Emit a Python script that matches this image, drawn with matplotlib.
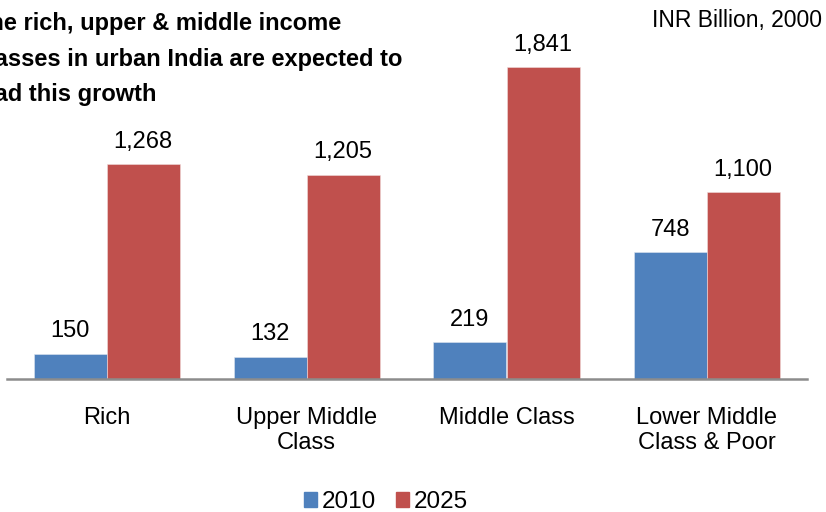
"""
Grouped bar chart of urban consumption by income class, 2010 vs 2025.
"""
import matplotlib
import matplotlib.pyplot as plt
import numpy as np
from matplotlib.patches import Patch

matplotlib.use('agg')

categories = ['Rich', 'Upper Middle\nClass', 'Middle Class', 'Lower Middle\nClass & Poor']
values_2010 = [150, 132, 219, 748]
values_2025 = [1268, 1205, 1841, 1100]
series_names = ['2010', '2025']

BLUE = '#4F81BD'
RED = '#C0504D'

plt.rcParams['font.family'] = ['Liberation Sans', 'DejaVu Sans']

fig = plt.figure(figsize=(8.26, 5.12), dpi=100)
ax = fig.add_axes([6.5 / 826, 1 - 379 / 512, 800 / 826, 379 / 512])

x = np.arange(len(categories))
width = 0.365
bars_a = ax.bar(x - width / 2, values_2010, width, color=BLUE,
                edgecolor='#dfe6f0', linewidth=0.4, label=series_names[0])
bars_b = ax.bar(x + width / 2, values_2025, width, color=RED,
                edgecolor='#f0dcdc', linewidth=0.4, label=series_names[1])

for bars, vals in ((bars_a, values_2010), (bars_b, values_2025)):
    for rect, v in zip(bars, vals):
        ax.annotate(f'{v:,}', (rect.get_x() + rect.get_width() / 2, v),
                    xytext=(0, 16), textcoords='offset points',
                    ha='center', va='center', fontsize=17)

ax.set_xlim(-0.5, len(categories) - 0.5)
ax.set_ylim(0, 2235)
ax.set_xticks(x)
ax.set_xticklabels(categories, fontsize=17, linespacing=1.2)
ax.tick_params(axis='x', length=0, pad=20)
ax.set_yticks([])
for side in ('top', 'left', 'right'):
    ax.spines[side].set_visible(False)
ax.spines['bottom'].set_color('#8c8c8c')
ax.spines['bottom'].set_linewidth(1.8)
ax.patch.set_visible(False)

fig.text(-25 / 826, 1 - 12 / 512,
         'The rich, upper & middle income\n'
         'classes in urban India are expected to\n'
         'lead this growth',
         ha='left', va='top', fontsize=17, fontweight='bold', linespacing=1.7)
fig.text(822 / 826, 1 - 20 / 512, 'INR Billion, 2000',
         ha='right', va='center', fontsize=16.5)

handles = [Patch(color=BLUE), Patch(color=RED)]
fig.legend(handles, series_names, loc='center', bbox_to_anchor=(386 / 826, 1 - 502 / 512),
           ncol=2, frameon=False, fontsize=17.5, handlelength=0.55, handleheight=0.55,
           handletextpad=0.2, columnspacing=0.8)

plt.savefig('out.png', dpi=100)
